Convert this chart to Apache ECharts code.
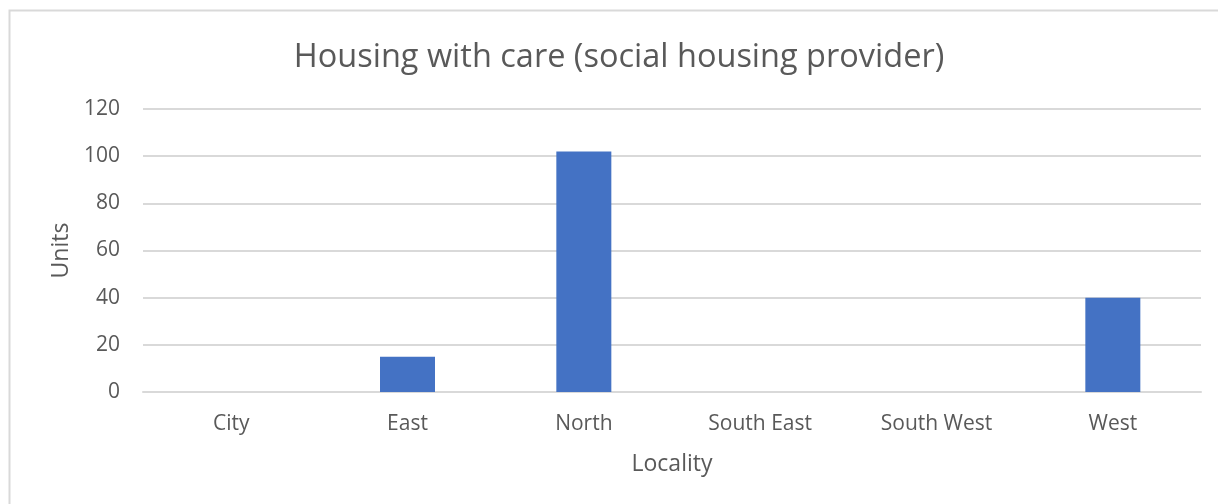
<!DOCTYPE html>
<html>
<head>
<meta charset="utf-8">
<script src="https://cdn.jsdelivr.net/npm/echarts@6/dist/echarts.min.js"></script>
<style>
  html, body { margin: 0; padding: 0; background: #fff; }
  #chart { width: 1218px; height: 504px; }
</style>
</head>
<body>
<div id="chart"></div>
<script>
// Units of housing with care by locality
const localities = ['City', 'East', 'North', 'South East', 'South West', 'West'];
const units = [0, 15, 102, 0, 0, 40];
const yTicks = { min: 0, max: 120, interval: 20 };

const chart = echarts.init(document.getElementById('chart'), null, { renderer: 'canvas' });
const textColor = '#595959';
const fontFamily = '"Open Sans", "Noto Sans", sans-serif';

chart.setOption({
  backgroundColor: '#ffffff',
  animation: false,
  graphic: [{
    type: 'rect',
    shape: { x: 9.5, y: 10.5, width: 1240, height: 520 },
    style: { fill: 'none', stroke: '#d9d9d9', lineWidth: 2 },
    silent: true
  }],
  title: {
    text: 'Housing with care (social housing provider)',
    left: 614, top: 36, textAlign: 'center',
    textStyle: { color: textColor, fontSize: 32.5, fontWeight: 'normal', fontFamily: fontFamily }
  },
  grid: { left: 143, right: 17, top: 109, bottom: 112 },
  xAxis: {
    type: 'category',
    data: localities,
    name: 'Locality',
    nameLocation: 'middle',
    nameGap: 61,
    nameTextStyle: { color: textColor, fontSize: 23, fontFamily: fontFamily },
    axisLine: { show: true, lineStyle: { color: '#d9d9d9', width: 2 } },
    axisTick: { show: false },
    axisLabel: { color: textColor, fontSize: 21, margin: 22, fontFamily: fontFamily }
  },
  yAxis: {
    type: 'value',
    min: yTicks.min, max: yTicks.max, interval: yTicks.interval,
    name: 'Units',
    nameLocation: 'middle',
    nameGap: 67,
    nameRotate: 90,
    nameTextStyle: { color: textColor, fontSize: 23, fontFamily: fontFamily },
    axisLine: { show: false },
    axisTick: { show: false },
    axisLabel: { color: textColor, fontSize: 21, margin: 23, fontFamily: fontFamily },
    splitLine: { lineStyle: { color: '#d9d9d9', width: 2 } }
  },
  series: [{
    type: 'bar',
    data: units,
    barWidth: 55,
    itemStyle: { color: '#4472c4' }
  }]
});
</script>
</body>
</html>
